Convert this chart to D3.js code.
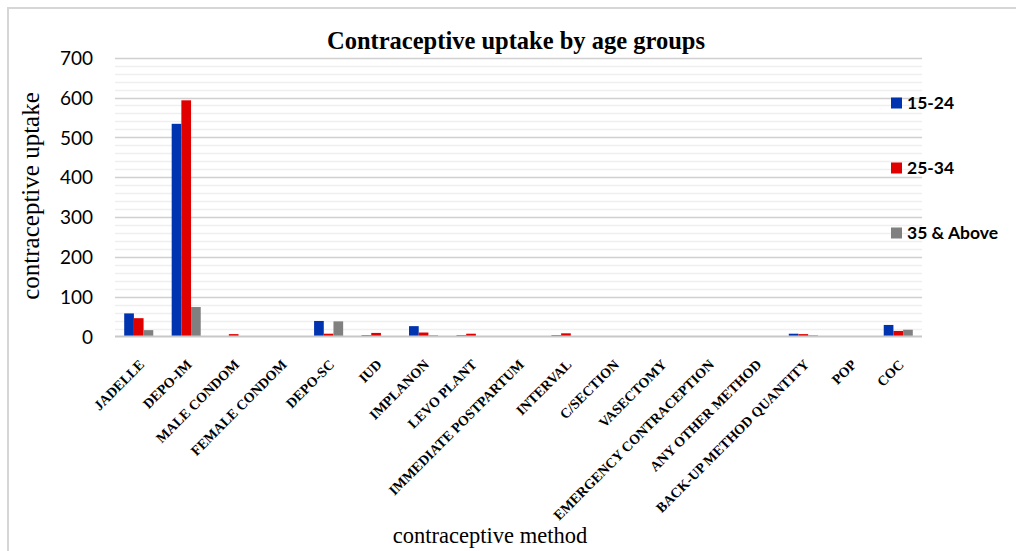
<!DOCTYPE html>
<html>
<head>
<meta charset="utf-8">
<script src="https://cdn.jsdelivr.net/npm/d3@7"></script>
<style>
    body { margin: 0; background: #fff; }
    svg { display: block; }
</style>
</head>
<body>
<div id="chart"></div>
<script>
// Contraceptive uptake by age groups - grouped bars

const methods = ['JADELLE', 'DEPO-IM', 'MALE CONDOM', 'FEMALE CONDOM', 'DEPO-SC', 'IUD',
    'IMPLANON', 'LEVO PLANT', 'IMMEDIATE POSTPARTUM', 'INTERVAL', 'C/SECTION', 'VASECTOMY',
    'EMERGENCY CONTRACEPTION', 'ANY OTHER METHOD', 'BACK-UP METHOD QUANTITY', 'POP', 'COC'];
const groups = ['15-24', '25-34', '35 & Above'];
const age15to24 = [58, 534, 0, 0, 39, 3, 26, 3, 0, 3, 0, 0, 0, 0, 7, 0, 29];
const age25to34 = [46, 593, 6, 0, 7, 9, 10, 7, 0, 8, 0, 0, 0, 0, 6, 0, 14];
const age35plus = [16, 74, 0, 0, 38, 0, 3, 0, 0, 0, 0, 0, 0, 0, 3, 0, 17];
const yTicks = [0, 100, 200, 300, 400, 500, 600, 700];

const colors = {'15-24': '#0033b0', '25-34': '#e00000', '35 & Above': '#808080'};

const W = 1016, H = 551;
const margin = {top: 58, left: 115, right: 94, bottom: 214};

const svg = d3.select('#chart').append('svg')
    .attr('width', W)
    .attr('height', H);

// outer frame (only top and left edges are visible)
svg.append('rect')
    .attr('x', 8).attr('y', 8)
    .attr('width', 1100).attr('height', 600)
    .attr('fill', 'none')
    .attr('stroke', '#d6d6d6')
    .attr('stroke-width', 2);

const x = d3.scaleBand()
    .domain(methods)
    .range([margin.left, W - margin.right]);

const x1 = d3.scaleBand()
    .domain(groups)
    .range([0, x.bandwidth()])
    .paddingOuter(0.95);

const y = d3.scaleLinear()
    .domain([0, 700])
    .range([336.5, 57.7]);

// minor gridlines every 20
svg.append('g')
    .selectAll('line')
    .data(d3.range(20, 700, 20).filter(v => v % 100 !== 0))
    .join('line')
    .attr('x1', margin.left).attr('x2', W - margin.right)
    .attr('y1', d => Math.round(y(d)) + 0.5).attr('y2', d => Math.round(y(d)) + 0.5)
    .attr('stroke', '#efefef')
    .attr('stroke-width', 1.5);

// major gridlines
svg.append('g')
    .selectAll('line')
    .data(yTicks.slice(1))
    .join('line')
    .attr('x1', margin.left).attr('x2', W - margin.right)
    .attr('y1', d => Math.round(y(d)) + 0.5).attr('y2', d => Math.round(y(d)) + 0.5)
    .attr('stroke', '#d0d0d0')
    .attr('stroke-width', 1.5);

// bars
const rows = methods.map((m, i) => ({
    method: m,
    values: [age15to24[i], age25to34[i], age35plus[i]]
}));

svg.append('g')
    .selectAll('g')
    .data(rows)
    .join('g')
    .attr('transform', d => `translate(${x(d.method)},0)`)
    .selectAll('rect')
    .data(d => d.values.map((v, j) => ({group: groups[j], value: v})))
    .join('rect')
    .attr('x', d => x1(d.group))
    .attr('width', x1.bandwidth())
    .attr('y', d => y(d.value))
    .attr('height', d => y(0) - y(d.value))
    .attr('fill', d => colors[d.group]);

// x axis line
svg.append('line')
    .attr('x1', margin.left).attr('x2', W - margin.right)
    .attr('y1', 336.5).attr('y2', 336.5)
    .attr('stroke', '#c8c8c8')
    .attr('stroke-width', 2);

// y axis tick labels
const yAxis = d3.axisLeft(y).tickValues(yTicks).tickSize(0).tickPadding(0);
const gy = svg.append('g')
    .attr('transform', 'translate(93,0)')
    .call(yAxis);
gy.select('.domain').remove();
gy.selectAll('text')
    .attr('dy', '0.35em')
    .style('font-family', 'Lato, "Open Sans", sans-serif')
    .style('font-size', '19px')
    .style('fill', '#000');

// x category labels
const xAxis = d3.axisBottom(x).tickSize(0).tickPadding(0);
const gx = svg.append('g')
    .attr('transform', 'translate(3,362)')
    .call(xAxis);
gx.select('.domain').remove();
gx.selectAll('text')
    .attr('dy', '0.35em')
    .attr('transform', 'rotate(-45)')
    .style('text-anchor', 'end')
    .style('font-family', '"Liberation Serif", "Times New Roman", serif')
    .style('font-weight', 'bold')
    .style('font-size', '14px')
    .style('fill', '#000');

// title
svg.append('text')
    .attr('x', 516)
    .attr('y', 49)
    .attr('text-anchor', 'middle')
    .style('font-family', '"Liberation Serif", "Times New Roman", serif')
    .style('font-weight', 'bold')
    .style('font-size', '24.5px')
    .text('Contraceptive uptake by age groups');

// y axis title
svg.append('text')
    .attr('transform', 'translate(39,196) rotate(-90)')
    .attr('text-anchor', 'middle')
    .style('font-family', '"Liberation Serif", "Times New Roman", serif')
    .style('font-size', '25px')
    .text('contraceptive uptake');

// x axis title
svg.append('text')
    .attr('x', 490)
    .attr('y', 543)
    .attr('text-anchor', 'middle')
    .style('font-family', '"Liberation Serif", "Times New Roman", serif')
    .style('font-size', '22.5px')
    .text('contraceptive method');

// legend
const legendY = [103, 168, 233];
const legend = svg.append('g')
    .selectAll('g')
    .data(groups)
    .join('g')
    .attr('transform', (d, i) => `translate(891,${legendY[i]})`);

legend.append('rect')
    .attr('x', 0).attr('y', -5.5)
    .attr('width', 11).attr('height', 11)
    .attr('fill', d => colors[d]);

legend.append('text')
    .attr('x', 16)
    .attr('dy', '0.36em')
    .style('font-family', 'Lato, "Open Sans", sans-serif')
    .style('font-weight', 'bold')
    .style('font-size', '17.5px')
    .text(d => d);
</script>
</body>
</html>
